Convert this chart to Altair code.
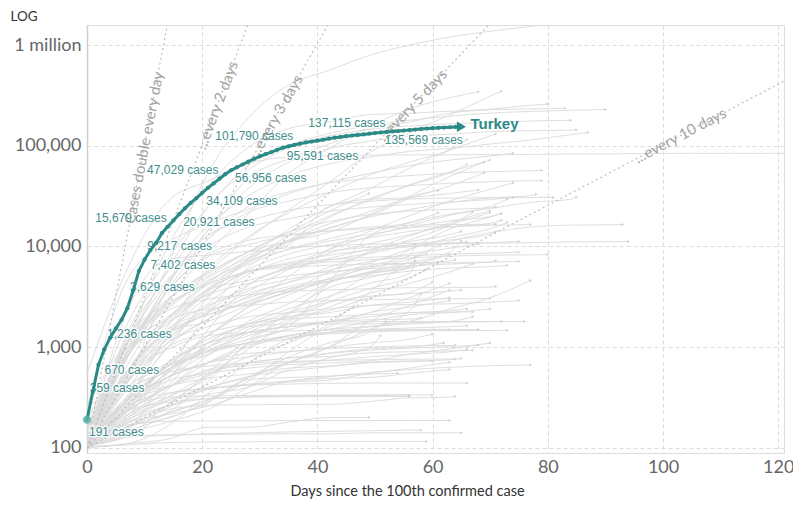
import math
import altair as alt
import pandas as pd

# ---------------- data ----------------
# Turkey: confirmed cases, one value per day since the 100th case (day 0 .. 65)
TURKEY_CASES = [191, 359, 670, 947, 1236, 1529, 1872, 2433, 3629, 5698, 7402, 9217,
                10827, 13531, 15679, 18135, 20921, 23934, 27069, 30217, 34109, 38226,
                42282, 47029, 52167, 56956, 61049, 65111, 69392, 74193, 78546, 82329,
                86306, 90980, 95591, 98674, 101790, 104912, 107773, 110130, 112261,
                114653, 117589, 120204, 122392, 124375, 126045, 127659, 129491, 131744,
                133721, 135569, 137115, 138657, 139771, 141475, 143114, 144749, 146457,
                148067, 149435, 150593, 151615, 152587, 153548, 154500]

# days of Turkey that carry a value label, and where the label sits
LABEL_DAYS = [0, 1, 2, 4, 8, 10, 11, 14, 16, 20, 23, 25, 34, 36, 51, 52]
LABEL_SIDE = ["below", "up", "down", "up", "up", "down", "up", "ul", "lr", "lr",
              "ul", "lr", "lr", "ul", "lr", "ul"]

# other countries: (last day, weekly values on days 0,7,14,..., value on last day)
GREY = {
    "United States": (82, [100, 959, 6400, 53700, 188000, 400000, 560000, 788000, 1000000, 1200000, 1370000, 1530000], 1640000),
    "Spain": (83, [120, 1073, 9900, 39700, 95900, 148000, 172000, 204000, 210000, 220000, 228000, 232000], 235000),
    "Italy": (90, [155, 1694, 7400, 24700, 63900, 101000, 132000, 159000, 179000, 197000, 211000, 219000, 225000], 229000),
    "United Kingdom": (80, [115, 456, 3980, 14500, 47800, 73800, 104000, 148000, 172000, 211000, 230000, 252000], 259000),
    "Germany": (84, [130, 1100, 5800, 24900, 57300, 95400, 125000, 145000, 157000, 165000, 171000, 176000], 179000),
    "France": (85, [100, 1100, 4500, 14300, 37600, 68600, 93800, 111000, 124000, 130000, 138000, 141000, 143000], 144000),
    "Brazil": (72, [151, 904, 2900, 5700, 12000, 23000, 43000, 85000, 135000, 202000, 310000], 347000),
    "Russia": (68, [114, 658, 2800, 8700, 21000, 52800, 93600, 155000, 232000, 300000], 344000),
    "Iran": (87, [245, 4700, 11000, 17000, 32000, 50000, 66000, 77000, 88000, 94000, 104000, 114000, 129000], 135000),
    "India": (71, [107, 330, 987, 3100, 7600, 14800, 24500, 37000, 60000, 90000, 125000], 131000),
    "Peru": (66, [117, 580, 1600, 5900, 12500, 21600, 33900, 51000, 68800, 92000], 115000),
    "Canada": (74, [103, 1400, 5600, 15800, 23300, 33400, 43300, 52900, 63500, 72000, 79000], 84000),
    "Chile": (69, [155, 1100, 3000, 5500, 8800, 11300, 13800, 20600, 31700, 49600], 69000),
    "Mexico": (66, [118, 585, 1900, 3800, 7500, 11600, 19200, 29600, 40200, 54300], 65000),
    "Saudi Arabia": (70, [103, 900, 1700, 3600, 7100, 12800, 20000, 28600, 41000, 54800], 72000),
    "Pakistan": (69, [187, 990, 2400, 4600, 6900, 11000, 15000, 20000, 30000, 40000], 54000),
    "Belgium": (79, [109, 886, 3700, 11900, 24900, 34800, 42800, 47300, 50500, 53400, 55300, 56500], 57000),
    "Netherlands": (79, [128, 804, 4200, 11800, 21800, 28200, 34100, 38200, 40200, 42400, 44000, 44900], 45000),
    "Qatar": (74, [262, 401, 590, 1300, 2500, 5000, 9400, 14100, 20200, 28300, 37000], 43000),
    "Sweden": (78, [137, 1100, 2500, 4900, 7700, 11400, 15300, 19600, 23200, 27300, 30300, 32000], 33000),
    "Singapore": (85, [102, 160, 226, 455, 1100, 1600, 4400, 12700, 17100, 20900, 23800, 27400, 29400], 31000),
    "Switzerland": (81, [100, 868, 4200, 12900, 17800, 22800, 25900, 28100, 29600, 30200, 30500, 30600], 30700),
    "Portugal": (74, [112, 1300, 4700, 9900, 15500, 18800, 22300, 24500, 26200, 27600, 29200], 30600),
    "Ireland": (71, [129, 785, 2900, 5100, 8900, 13900, 17600, 20600, 22400, 23400, 24200], 24600),
    "Ecuador": (68, [111, 1200, 2700, 4400, 8200, 10400, 24900, 29500, 30500, 33600], 36300),
    "Belarus": (61, [113, 152, 562, 2200, 6200, 11300, 16700, 22000, 31000], 36000),
    "Bangladesh": (49, [123, 803, 2900, 5400, 8800, 13800, 22300], 33600),
    "Indonesia": (70, [117, 514, 1500, 2300, 4200, 6200, 8600, 10600, 13100, 16500], 21700),
    "Poland": (72, [103, 536, 1900, 4400, 7200, 9300, 11300, 13100, 15400, 18000, 19800], 21300),
    "Ukraine": (61, [113, 804, 1900, 4200, 6600, 9400, 11900, 14700, 17300], 21600),
    "Colombia": (67, [102, 470, 1300, 2200, 3400, 4400, 6200, 8600, 11600, 16300], 21900),
    "South Africa": (70, [116, 554, 1400, 1800, 2600, 3600, 5600, 8900, 12700, 17200], 22600),
    "United Arab Emirates": (73, [101, 198, 468, 1500, 4100, 6300, 9300, 12500, 16200, 20400, 25000], 29500),
    "Kuwait": (72, [100, 176, 266, 556, 1200, 1900, 3100, 5300, 9300, 14900, 19600], 21300),
    "Egypt": (73, [109, 210, 576, 1300, 2200, 3300, 4800, 6800, 9400, 12200, 15000], 17300),
    "Romania": (72, [123, 308, 1300, 3200, 5900, 8400, 10400, 12200, 14100, 15600, 17000], 18200),
    "Israel": (71, [143, 883, 3600, 7900, 10400, 12900, 14300, 15600, 16200, 16500, 16600], 16700),
    "Japan": (93, [105, 186, 317, 530, 801, 1100, 1700, 3500, 7300, 11100, 13700, 15600, 16300, 16400], 16500),
    "South Korea": (94, [104, 2300, 7400, 8200, 8900, 9700, 10200, 10500, 10700, 10800, 10800, 10900, 11100, 11150], 11200),
    "China": (123, [548, 5974, 28000, 44600, 66600, 77000, 79400, 80700, 81100, 81300, 81600, 82000, 82700, 83000, 83800, 84000, 84000, 84000], 84100),
    "Austria": (77, [104, 800, 3600, 8300, 11500, 13000, 14200, 15000, 15500, 15800, 16200], 16500),
    "Philippines": (71, [111, 462, 1400, 3700, 4600, 6000, 7300, 8500, 10300, 11600, 13200], 14000),
    "Dominican Republic": (65, [112, 581, 1500, 2600, 3600, 5900, 7600, 9400, 11200, 13100], 14100),
    "Denmark": (75, [264, 1100, 1900, 3400, 5600, 6900, 8200, 9200, 9900, 10600, 10900], 11200),
    "Serbia": (66, [103, 528, 1200, 2700, 5300, 7500, 9000, 9800, 10300, 10700], 11100),
    "Argentina": (65, [128, 589, 1400, 2100, 2800, 3800, 4500, 5600, 6900, 8800], 11400),
    "Panama": (68, [109, 443, 1100, 2500, 3800, 4700, 5800, 7100, 8400, 9600], 10600),
    "Afghanistan": (57, [110, 274, 556, 993, 1800, 2700, 4400, 6400, 8100], 10600),
    "Czechia": (75, [116, 1100, 2600, 4200, 5700, 6700, 7400, 7800, 8100, 8400, 8600], 8800),
    "Norway": (80, [108, 1000, 1700, 3800, 5600, 6500, 7000, 7400, 7700, 8000, 8200, 8250], 8300),
    "Kazakhstan": (59, [111, 400, 700, 1300, 2500, 3600, 4800, 6100, 7500], 8500),
    "Algeria": (63, [139, 511, 1400, 2100, 2700, 3500, 4500, 5500, 6500], 8300),
    "Nigeria": (57, [111, 214, 318, 493, 1100, 2200, 3900, 4900, 6400], 7800),
    "Morocco": (64, [115, 479, 1100, 1900, 3200, 4400, 5400, 6300, 6800, 7200], 7400),
    "Australia": (75, [107, 298, 1300, 3600, 5600, 6200, 6500, 6700, 6800, 6900, 7000], 7100),
    "Malaysia": (71, [117, 900, 2000, 3300, 4300, 5100, 5600, 6000, 6400, 6700, 7000], 7200),
    "Ghana": (58, [132, 200, 380, 830, 1500, 2100, 4300, 5400, 6100], 6600),
    "Finland": (73, [109, 450, 1200, 2200, 3100, 4000, 4700, 5100, 5700, 6100, 6300], 6500),
    "Moldova": (61, [109, 300, 1000, 1900, 2900, 3800, 4500, 5400, 6200], 7000),
    "Armenia": (67, [115, 235, 571, 937, 1300, 1700, 2500, 3400, 4300, 5600], 6700),
    "Oman": (57, [109, 250, 419, 1100, 1700, 2400, 3200, 4300, 5400], 7200),
    "Iraq": (77, [101, 110, 164, 346, 694, 1200, 1400, 1600, 1800, 2400, 3100], 4600),
    "Luxembourg": (71, [140, 1100, 2300, 3000, 3300, 3600, 3700, 3800, 3900, 3900, 3950], 4000),
    "Hungary": (65, [103, 300, 600, 1000, 1600, 2200, 2800, 3200, 3400, 3600], 3700),
    "Thailand": (70, [114, 827, 1800, 2400, 2600, 2800, 2900, 2950, 3000, 3020], 3040),
    "Greece": (75, [101, 387, 1100, 1600, 2000, 2200, 2400, 2600, 2650, 2700, 2800], 2900),
    "Croatia": (67, [105, 442, 1000, 1400, 1700, 1900, 2000, 2100, 2200, 2230], 2240),
    "Bolivia": (59, [107, 132, 268, 520, 950, 1800, 2800, 3800, 4900], 5900),
    "Cameroon": (60, [113, 230, 650, 850, 1400, 2000, 2300, 3100, 3500], 4400),
    "Estonia": (72, [115, 250, 700, 1100, 1400, 1600, 1700, 1700, 1750, 1770, 1790], 1800),
    "Iceland": (76, [117, 250, 650, 1200, 1600, 1700, 1780, 1790, 1800, 1800, 1800], 1800),
    "Slovenia": (73, [141, 400, 650, 930, 1100, 1250, 1350, 1420, 1450, 1460, 1465], 1470),
    "New Zealand": (63, [102, 514, 950, 1300, 1400, 1450, 1480, 1490, 1497], 1500),
    "Slovakia": (68, [105, 230, 400, 700, 1050, 1200, 1400, 1450, 1480, 1495], 1500),
    "Lebanon": (70, [110, 250, 460, 550, 620, 670, 700, 730, 850, 960], 1100),
    "Jordan": (63, [112, 260, 350, 390, 420, 450, 470, 550, 620], 710),
    "Uruguay": (65, [110, 310, 410, 490, 540, 620, 650, 710, 730, 750], 770),
    "Vietnam": (64, [113, 160, 240, 265, 268, 270, 271, 288, 314, 318], 325),
    "Taiwan": (66, [108, 215, 340, 390, 420, 430, 438, 440, 440, 441], 441),
    "Costa Rica": (66, [113, 230, 400, 580, 660, 700, 740, 800, 850, 900], 950),
    "Sri Lanka": (62, [102, 140, 180, 240, 400, 710, 870, 960, 1000], 1100),
    "Georgia": (60, [105, 160, 250, 390, 510, 580, 640, 700, 720], 730),
    "Malta": (63, [107, 190, 290, 380, 430, 460, 490, 500, 550], 600),
    "Senegal": (63, [105, 130, 220, 300, 460, 900, 1600, 2200, 2500], 2900),
    "Kenya": (51, [110, 180, 260, 340, 400, 600, 780, 1000], 1300),
    "Cuba": (58, [119, 290, 670, 1100, 1400, 1600, 1800, 1870, 1900], 1950),
    "Faeroe Islands": (63, [115, 169, 184, 185, 186, 187, 187, 187, 187], 187),
    "Brunei": (65, [104, 127, 135, 136, 137, 138, 138, 141, 141, 141], 141),
    "Trinidad and Tobago": (59, [103, 107, 113, 114, 115, 116, 116, 116, 116], 116),
    "Gibraltar": (58, [103, 129, 133, 138, 141, 144, 146, 148, 150], 150),
    "Mauritius": (56, [102, 244, 318, 328, 331, 332, 332, 332], 334),
    "Montenegro": (56, [105, 233, 283, 307, 320, 322, 324, 324], 324),
    "Jamaica": (54, [104, 163, 196, 288, 478, 500, 517, 540], 550),
    "Uganda": (49, [101, 110, 122, 160, 160, 180, 200], 200),
    "Isle of Man": (60, [100, 190, 260, 310, 320, 330, 335, 336, 336], 336),
    "Andorra": (64, [113, 370, 560, 650, 700, 720, 740, 750, 760, 762], 763),
    "San Marino": (77, [101, 175, 215, 260, 350, 460, 510, 560, 600, 630, 655], 665),
    "Latvia": (68, [111, 280, 400, 550, 700, 780, 870, 930, 980, 1010], 1050),
    "Lithuania": (66, [105, 300, 600, 900, 1100, 1300, 1400, 1500, 1550, 1600], 1630),
    "Bosnia and Herzegovina": (66, [110, 320, 600, 900, 1200, 1500, 1800, 2000, 2200, 2300], 2400),
    "North Macedonia": (67, [114, 240, 500, 850, 1100, 1300, 1500, 1600, 1700, 1800], 2000),
    "Azerbaijan": (63, [122, 270, 640, 1000, 1400, 1600, 1800, 2200, 3100], 4300),
    "Tunisia": (64, [114, 300, 500, 700, 870, 900, 970, 1000, 1030, 1040], 1050),
    "Cyprus": (67, [116, 230, 400, 600, 700, 780, 810, 880, 900, 920], 930),
    "Bulgaria": (70, [127, 290, 500, 700, 1000, 1300, 1500, 1800, 2100, 2200], 2400),
    "Honduras": (63, [110, 200, 300, 400, 500, 700, 1000, 1800, 2600], 3700),
    "Guatemala": (58, [126, 150, 200, 280, 500, 700, 1000, 1500, 2300], 3400),
    "El Salvador": (52, [117, 160, 220, 300, 500, 800, 1100, 1400], 1800),
    "Kyrgyzstan": (60, [107, 270, 500, 700, 800, 900, 1000, 1100, 1200], 1350),
    "Uzbekistan": (63, [104, 300, 500, 1100, 1700, 2000, 2200, 2600, 2800], 3100),
}
WEEK = 7

# reference lines: cases double every N days, starting from 100 cases on day 0
DOUBLING_DAYS = [1, 2, 3, 5, 10]
DOUBLING_TEXT = ["Cases double every day", "...every 2 days", "...every 3 days",
                 "...every 5 days", "...every 10 days"]
DOUBLING_LABEL_DAY = [9.9, 22.6, 32.8, 56.5, 103]

X_TICKS = [0, 20, 40, 60, 80, 100, 120]
Y_TICKS = [100, 1000, 10000, 100000, 1000000]

# ---------------- frames ----------------
X_MAX = 121.0
Y_MIN, Y_MAX = 89, 1580000
W, H = 697, 428

grey_rows, grey_ends = [], []
for name, (last_day, weekly, last_val) in GREY.items():
    for i, v in enumerate(weekly):
        d = i * WEEK
        if d < last_day:
            grey_rows.append({"country": name, "day": d, "cases": v})
    grey_rows.append({"country": name, "day": last_day, "cases": last_val})
    if last_day <= X_MAX:
        grey_ends.append({"country": name, "day": last_day, "cases": last_val})
grey_df = pd.DataFrame(grey_rows)
grey_end_df = pd.DataFrame(grey_ends)

dbl_rows, dbl_lab = [], []
px_day = W / X_MAX
px_dec = H / (math.log10(Y_MAX) - math.log10(Y_MIN))
for d, txt, ld in zip(DOUBLING_DAYS, DOUBLING_TEXT, DOUBLING_LABEL_DAY):
    end_day = min(X_MAX, d * math.log2(Y_MAX / 100))
    dbl_rows.append({"rate": d, "day": 0, "cases": 100})
    dbl_rows.append({"rate": d, "day": end_day, "cases": 100 * 2 ** (end_day / d)})
    slope = math.degrees(math.atan((px_dec * math.log10(2) / d) / px_day))
    dbl_lab.append({"rate": d, "text": txt, "day": ld,
                    "cases": 100 * 2 ** (ld / d), "angle": 360 - slope})
dbl_df = pd.DataFrame(dbl_rows)
dbl_lab_df = pd.DataFrame(dbl_lab)

tr_df = pd.DataFrame({"day": list(range(len(TURKEY_CASES))), "cases": TURKEY_CASES})
lab_df = pd.DataFrame({
    "day": LABEL_DAYS,
    "cases": [TURKEY_CASES[d] for d in LABEL_DAYS],
    "side": LABEL_SIDE,
})
lab_df["text"] = lab_df["cases"].map(lambda v: f"{v:,} cases")
end_df = tr_df.tail(1).assign(name="Turkey")
start_df = tr_df.head(1)

# ---------------- encodings ----------------
TEAL = "#2b8a86"
LABEL_TEAL = "#3f8e8b"

x_enc = alt.X("day:Q", scale=alt.Scale(domain=[0, X_MAX], nice=False, zero=False),
              axis=alt.Axis(values=X_TICKS, title="Days since the 100th confirmed case",
                            labelFontSize=18, labelColor="#666", labelFont="Lato",
                            labelPadding=5, ticks=False, domain=False,
                            titleFont="Lato", titleFontSize=14.5, titleColor="#333",
                            titleFontWeight="normal", titlePadding=8,
                            titleX=320, titleAlign="center",
                            grid=True, gridColor="#dcdcdc", gridDash=[4, 3],
                            labelFlush=False))
y_enc = alt.Y("cases:Q",
              scale=alt.Scale(type="log", domain=[Y_MIN, Y_MAX], nice=False),
              axis=alt.Axis(values=Y_TICKS, title="LOG",
                            labelExpr="datum.value >= 1000000 ? '1 million' : format(datum.value, ',')",
                            labelFontSize=18, labelColor="#666", labelFont="Lato",
                            labelPadding=6, ticks=False,
                            domain=True, domainColor="#cfcfcf", domainWidth=1.5,
                            grid=True, gridColor="#dcdcdc", gridDash=[4, 3],
                            titleAngle=0, titleAlign="left", titleBaseline="middle",
                            titleX=-77, titleY=-9, titleFont="Lato", titleFontSize=13.5,
                            titleColor="#333", titleFontWeight="normal"))

base_x = alt.X("day:Q")
base_y = alt.Y("cases:Q")

grey_lines = alt.Chart(grey_df).mark_line(
    color="#dadada", strokeWidth=0.9, interpolate="monotone", clip=True
).encode(x=x_enc, y=y_enc, detail="country:N")

grey_pts = alt.Chart(grey_end_df).mark_point(
    shape="triangle-right", filled=True, size=9, color="#cfcfcf", opacity=1, clip=True
).encode(x=base_x, y=base_y)

dbl_lines = alt.Chart(dbl_df).mark_line(
    color="#bdbdbd", strokeWidth=1.2, strokeDash=[2, 3], clip=True
).encode(x=base_x, y=base_y, detail="rate:N")

dbl_text = alt.Chart(dbl_lab_df).mark_text(
    font="Lato", fontSize=15, color="#a3a3a3", baseline="middle", align="center"
).encode(x=base_x, y=base_y, text="text:N", angle=alt.Angle("angle:Q", scale=None))

tr_line = alt.Chart(tr_df).mark_line(color=TEAL, strokeWidth=3).encode(x=base_x, y=base_y)
tr_pts = alt.Chart(tr_df).mark_circle(color=TEAL, size=18, opacity=1).encode(x=base_x, y=base_y)
tr_start = alt.Chart(start_df).mark_circle(color="#5fb0ad", size=70, opacity=0.85).encode(x=base_x, y=base_y)
tr_arrow = alt.Chart(end_df).mark_point(
    shape="triangle-right", filled=True, size=110, color=TEAL, opacity=1
).encode(x=base_x, y=base_y)
tr_name = alt.Chart(end_df).mark_text(
    font="Liberation Sans", fontSize=15, fontWeight="bold", color=TEAL,
    align="left", baseline="middle", dx=9, dy=-3
).encode(x=base_x, y=base_y, text="name:N")

SIDES = {
    "below": dict(align="left", dx=2, dy=12),
    "up": dict(align="left", dx=-3, dy=-4),
    "down": dict(align="left", dx=6, dy=5),
    "lr": dict(align="left", dx=4, dy=8),
    "ul": dict(align="right", dx=-1, dy=-9),
}
halo_layers, text_layers = [], []
for side, opts in SIDES.items():
    src = alt.Chart(lab_df).transform_filter(alt.datum.side == side)
    common = dict(font="Liberation Sans", fontSize=12, baseline="middle", **opts)
    halo_layers.append(src.mark_text(color="white", stroke="white", strokeWidth=3,
                                     opacity=0.8, **common)
                       .encode(x=base_x, y=base_y, text="text:N"))
    text_layers.append(src.mark_text(color=LABEL_TEAL, **common)
                       .encode(x=base_x, y=base_y, text="text:N"))

chart = alt.layer(
    grey_lines, grey_pts, dbl_lines,
    *halo_layers,
    dbl_text,
    *text_layers,
    tr_line, tr_pts, tr_start, tr_arrow, tr_name,
).properties(
    width=W, height=H,
    autosize=alt.AutoSizeParams(type="none"),
    padding={"left": 79, "top": 17, "right": 9, "bottom": 47},
).configure_view(stroke=None).configure(background="white")

chart.save("out.html", embed_options={"renderer": "svg", "actions": False})
